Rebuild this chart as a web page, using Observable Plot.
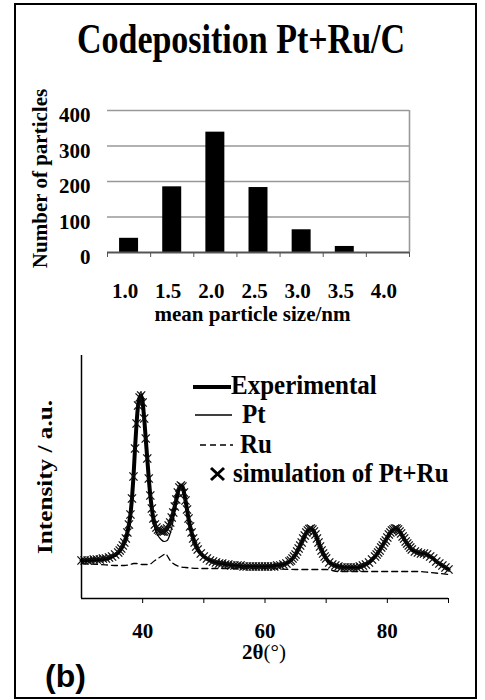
<!DOCTYPE html>
<html><head><meta charset="utf-8">
<script src="https://cdn.jsdelivr.net/npm/d3@7"></script>
<script src="https://cdn.jsdelivr.net/npm/@observablehq/plot@0.6"></script>
<style>
html,body{margin:0;padding:0;background:#fff;}
#page{position:relative;width:485px;height:700px;overflow:hidden;}
#frame{position:absolute;left:14px;top:3px;width:463px;height:696px;border:2px solid #000;box-sizing:border-box;}
#hist{position:absolute;left:0;top:95px;}
#xrd{position:absolute;left:0;top:330px;}
#overlay{position:absolute;left:0;top:0;pointer-events:none;}
</style></head>
<body><div id="page"><div id="frame"></div><div id="hist"></div><div id="xrd"></div><svg id="overlay" width="485" height="700"></svg></div>
<script>
// ---------- data ----------
const titleText = "Codeposition Pt+Ru/C";
// histogram
const sizeBins = [1.0, 1.5, 2.0, 2.5, 3.0, 3.5, 4.0];
const particleCounts = [40, 185, 339, 183, 64, 17, 0];
const countTicks = [0, 100, 200, 300, 400];
const binEdges = [0.75, 1.25, 1.75, 2.25, 2.75, 3.25, 3.75, 4.25];
// XRD
const xrdTicks = [40, 50, 60, 70, 80, 90];
const xrdTickLabels = [40, 60, 80];
const legendLabels = ["Experimental", "Pt", "Ru", "simulation of Pt+Ru"];

const expAngle = [30,33,35,36,37,37.5,38,38.25,38.5,38.75,39,39.25,39.5,39.75,40,40.25,40.5,40.75,41,41.25,41.5,41.75,42,42.5,43,43.5,44,44.5,45,45.5,45.75,46,46.25,46.5,46.75,47,47.25,47.5,48,48.5,49,49.5,50,51,52,53,54,55,57,60,62,63,63.5,64,64.5,65,65.5,66,66.5,67,67.5,68,68.5,69,69.5,70,70.5,71,72,73,75,76,77,77.5,78,78.5,79,79.5,80,80.5,81,81.5,82,82.5,83,83.5,84,84.5,85,85.5,86,86.5,87,87.5,88,88.5,89,89.5,90];
const expValue = [38,39,42,46,56,66,84,100,122,150,175,193,201,203,196,180,160,140,120,103,90,80,74,69,67,67,70,76,86,99,106,111,113,112,106,98,89,80,66,56,49,45,42,38,36,35,34,33,32,32,33,34,35,37,40,44,50,56,63,68,70,67,60,52,45,40,36,34,32,31,31,33,36,39,42,46,51,56,61,66,69,70,67,62,57,53,49,47,46,45,45,44,42,40,37,35,33,31,29];

const ptAngle = [30,32,34,35,36,37,37.5,38,38.5,39,39.25,39.5,39.75,40,40.25,40.5,41,41.5,42,42.5,43,43.5,44,44.5,45,45.5,46,46.25,46.5,47,47.5,48,49,50,52,55,60,63,64,65,66,67,67.5,68,69,70,72,75,77,78,79,80,81,81.5,82,83,84,85,86,87,88,89,90];
const ptValue = [37,38,39,41,45,55,65,83,121,175,195,204,207,199,181,160,118,86,70,63,59,57,58,65,78,96,110,113,112,98,80,66,49,42,36,33,32,34,37,44,56,68,70,67,52,40,32,31,36,42,51,61,69,70,67,57,49,46,45,42,37,33,29];

const ruAngle = [30,33,36,37,38,38.5,39,40,40.5,41,42,42.5,43,43.5,43.75,44,44.5,45,46,47,50,55,60,65,70,72,75,80,85,87,90];
const ruValue = [35,34,33,33,34,35,35,34,34,34,38,40,42,44,45,43,38,35,32,31,30,30,30,29,29,27,27,27,27,26,24];

const simAngle = [30,30.5,31,31.5,32,32.5,33,33.5,34,34.5,35,35.5,
36,36.25,36.5,36.75,37,37.25,37.5,37.75,38,38.25,38.5,38.75,39,39.25,39.5,39.75,40,40.25,40.5,40.75,41,41.25,41.5,41.75,42,42.25,42.5,42.75,43,43.25,43.5,43.75,44,44.25,44.5,44.75,45,45.25,45.5,45.75,46,46.25,46.5,46.75,47,47.25,47.5,47.75,48,48.25,48.5,48.75,
49,49.5,50,50.5,51,51.5,52,52.5,53,53.5,54,54.5,55,55.5,56,56.5,57,57.5,58,58.5,59,59.5,60,60.5,61,61.5,62,62.5,63,63.5,
64,64.25,64.5,64.75,65,65.25,65.5,65.75,66,66.25,66.5,66.75,67,67.25,67.5,67.75,68,68.25,68.5,68.75,69,69.25,69.5,69.75,
70,70.5,71,71.5,72,72.5,73,73.5,74,74.5,75,75.5,76,76.5,77,77.5,
78,78.25,78.5,78.75,79,79.25,79.5,79.75,80,80.25,80.5,80.75,81,81.25,81.5,81.75,82,82.25,82.5,82.75,83,83.25,83.5,83.75,
84,84.5,85,85.5,86,86.5,87,87.5,88,88.5,89,89.5,90];
const simValue = [38,38,38,38,39,39,39,40,40,41,42,44,
46,48,50,53,56,60,66,74,84,100,122,150,175,193,201,203,196,180,160,140,120,103,90,80,74,71,69,68,67,67,67,68,70,73,76,81,86,92,99,106,111,113,112,106,98,89,80,72,66,60,56,52,
49,45,42,40,38,37,36,35,35,34,34,33,33,33,33,32,32,32,32,32,32,32,32,32,32,32,33,33,34,35,
37,38,40,42,44,47,50,53,56,60,63,66,68,69.5,70,69,67,64,60,56,52,48,45,42,
40,36,34,33,32,31,31,31,31,31,31,32,33,34,36,39,
42,44,46,48,51,53,56,58,61,64,66,68,69,70,70,69,67,65,62,60,57,55,53,51,
49,47,46,45,45,44,42,40,37,35,33,31,29];

// ---------- shared styles ----------
const serif = '"Liberation Serif","Times New Roman",serif';
const sans = '"Liberation Sans",Arial,sans-serif';

// ---------- histogram ----------
const histData = sizeBins.map((s, i) => ({size: s, count: particleCounts[i]}));
const hist = Plot.plot({
  width: 485, height: 235,
  marginLeft: 107, marginRight: 76, marginTop: 15, marginBottom: 78,
  style: {fontFamily: serif, fontSize: "21px", fontWeight: "bold", color: "#000", background: "transparent", overflow: "visible"},
  x: {domain: [0.75, 4.25]},
  y: {domain: [0, 400]},
  marks: [
    Plot.ruleY(countTicks.filter(t => t > 0), {stroke: "#999", strokeWidth: 1.6}),
    Plot.ruleX([binEdges[binEdges.length - 1]], {stroke: "#999", strokeWidth: 1.6}),
    Plot.rectY(histData, {x1: d => d.size - 0.11, x2: d => d.size + 0.11, y: "count", fill: "#000"}),
    Plot.ruleY([0], {stroke: "#555", strokeWidth: 2}),
    Plot.axisX({ticks: binEdges, tickSize: 5, tickFormat: () => "", stroke: "#555", label: null}),
    Plot.axisX({ticks: sizeBins, tickSize: 0, tickPadding: 31, dx: -4, tickFormat: d3.format(".1f"), label: null}),
    Plot.axisY({ticks: countTicks, tickSize: 0, tickPadding: 17, dy: 5, label: null}),
    Plot.text(["mean particle size/nm"], {text: d => d, frameAnchor: "bottom", lineAnchor: "bottom", dy: 68, dx: -6, fontSize: 21, fontWeight: "bold"}),
    Plot.text(["Number of particles"], {text: d => d, frameAnchor: "left", textAnchor: "middle", rotate: -90, dx: -67, dy: -3, fontSize: 21, fontWeight: "bold"})
  ]
});
document.getElementById("hist").appendChild(hist);

// ---------- XRD ----------
const expData = expAngle.map((a, i) => ({a, v: expValue[i]}));
const ptData = ptAngle.map((a, i) => ({a, v: ptValue[i]}));
const ruData = ruAngle.map((a, i) => ({a, v: ruValue[i]}));
const simData = simAngle.map((a, i) => ({a, v: simValue[i]}));
const xrd = Plot.plot({
  width: 485, height: 350,
  marginLeft: 81, marginRight: 37, marginTop: 25, marginBottom: 82,
  style: {fontFamily: serif, fontSize: "21px", fontWeight: "bold", color: "#000", background: "transparent", overflow: "visible"},
  x: {domain: [30, 90]},
  y: {domain: [0, 243], axis: null},
  marks: [
    Plot.line(ruData, {x: "a", y: "v", stroke: "#000", strokeWidth: 1.3, strokeDasharray: "6,4", curve: "monotone-x"}),
    Plot.line(expData, {x: "a", y: "v", stroke: "#000", strokeWidth: 4, curve: "monotone-x"}),
    Plot.dot(simData, {x: "a", y: "v", symbol: "times", r: 3.8, stroke: "#111", strokeWidth: 1.3}),
    Plot.line(ptData, {x: "a", y: "v", stroke: "#000", strokeWidth: 1.2, curve: "monotone-x"}),
    Plot.ruleX([30], {stroke: "#000", strokeWidth: 1.5}),
    Plot.ruleY([0], {stroke: "#000", strokeWidth: 1.5}),
    Plot.axisX({ticks: xrdTicks, tickSize: 5, tickPadding: 20, tickFormat: d => xrdTickLabels.includes(d) ? String(d) : "", label: null})
  ]
});
document.getElementById("xrd").appendChild(xrd);

// ---------- overlay texts (title, legend, labels) ----------
const ov = d3.select("#overlay");
ov.append("text")
  .attr("transform", "translate(241,53) scale(1,1.22)")
  .attr("text-anchor", "middle").attr("font-family", serif).attr("font-weight", "bold").attr("font-size", 34)
  .text(titleText);

// legend
const lg = ov.append("g").attr("font-family", serif).attr("font-weight", "bold").attr("font-size", 25);
lg.append("line").attr("x1", 193).attr("x2", 231).attr("y1", 387).attr("y2", 387).attr("stroke", "#000").attr("stroke-width", 4);
lg.append("text").attr("transform", "translate(231,394) scale(1,1.12)").text(legendLabels[0]);
lg.append("line").attr("x1", 195).attr("x2", 232).attr("y1", 415).attr("y2", 415).attr("stroke", "#000").attr("stroke-width", 1.6);
lg.append("text").attr("transform", "translate(242,423) scale(1,1.1)").text(legendLabels[1]);
lg.append("line").attr("x1", 200).attr("x2", 233).attr("y1", 445).attr("y2", 445).attr("stroke", "#000").attr("stroke-width", 1.5).attr("stroke-dasharray", "6,4");
lg.append("text").attr("transform", "translate(240,453) scale(1,1.1)").text(legendLabels[2]);
lg.append("path").attr("d", "M211,468L224,480M211,480L224,468").attr("stroke", "#000").attr("stroke-width", 3);
lg.append("text").attr("transform", "translate(233,482) scale(1,1.1)").text(legendLabels[3]);

// y label of XRD panel
ov.append("text")
  .attr("transform", "translate(45,477) rotate(-90) scale(1.2,1)")
  .attr("text-anchor", "middle").attr("dominant-baseline", "central")
  .attr("font-family", serif).attr("font-weight", "bold").attr("font-size", 21)
  .text("Intensity / a.u.");

// x label of XRD panel
const xl = ov.append("text").attr("x", 264).attr("y", 659).attr("text-anchor", "middle")
  .attr("font-family", serif).attr("font-size", 21);
xl.append("tspan").attr("font-weight", "bold").text("2θ");
xl.append("tspan").text("(°)");

// panel tag
ov.append("text").attr("x", 45).attr("y", 687)
  .attr("font-family", sans).attr("font-weight", "bold").attr("font-size", 32).text("(b)");
</script>
</body></html>
